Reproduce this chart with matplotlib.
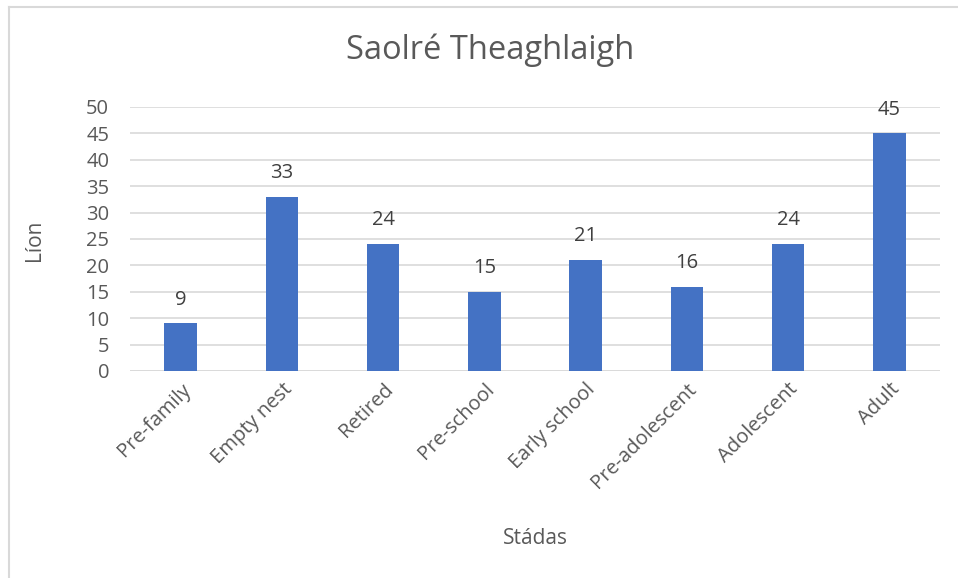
import matplotlib.pyplot as plt
from matplotlib.lines import Line2D

plt.rcParams['font.family'] = ['Open Sans', 'DejaVu Sans']

stages = ['Pre-family', 'Empty nest', 'Retired', 'Pre-school', 'Early school',
          'Pre-adolescent', 'Adolescent', 'Adult']
counts = [9, 33, 24, 15, 21, 16, 24, 45]
yticks = list(range(0, 51, 5))

text_col = '#595959'
grid_col = '#d9d9d9'

fig = plt.figure(figsize=(9.58, 5.78), dpi=100)
ax = fig.add_axes([130 / 958, 1 - 371 / 578, 810 / 958, 264 / 578])

x = range(len(stages))
bars = ax.bar(x, counts, width=0.32, color='#4472C4', zorder=3)
for xi, v in zip(x, counts):
    ax.annotate(str(v), (xi, v), xytext=(0, 10), textcoords='offset points',
                ha='center', va='bottom', fontsize=14.5, color='#404040')

ax.set_xlim(-0.5, len(stages) - 0.5)
ax.set_ylim(0, 50)
ax.set_yticks(yticks)
ax.yaxis.grid(True, color=grid_col, linewidth=1.2, zorder=0)
ax.tick_params(axis='both', length=0, labelsize=14.5, colors=text_col)
ax.tick_params(axis='y', pad=15)
ax.tick_params(axis='x', pad=6)
ax.set_xticks(list(x))
ax.set_xticklabels(stages, rotation=45, ha='right', rotation_mode='anchor')
for s in ax.spines.values():
    s.set_visible(False)
ax.axhline(0, color=grid_col, linewidth=1.2, zorder=1)

fig.text(490 / 958, 1 - 50 / 578, 'Saolré Theaghlaigh', ha='center', va='center',
         fontsize=23.5, color=text_col)
fig.text(35 / 958, 1 - 240 / 578, 'Líon', ha='center', va='center', rotation=90,
         fontsize=15, color=text_col)
fig.text(535 / 958, 1 - 538 / 578, 'Stádas', ha='center', va='center',
         fontsize=15, color=text_col)

# chart border (left and top visible)
fig.add_artist(Line2D([9 / 958, 9 / 958], [0, 1 - 7 / 578], color=grid_col, linewidth=1.5))
fig.add_artist(Line2D([9 / 958, 1], [1 - 7 / 578, 1 - 7 / 578], color=grid_col, linewidth=1.5))

fig.savefig('out.png', dpi=100)
